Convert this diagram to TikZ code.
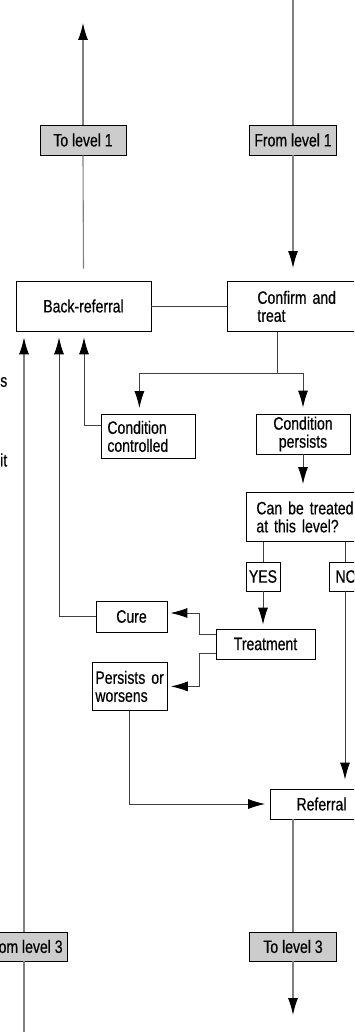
\documentclass[tikz,border=0pt]{standalone}
\usepackage{fontspec}
\setmainfont{Liberation Sans}[FakeStretch=0.78, FakeBold=0.4]
\usetikzlibrary{arrows.meta}

\begin{document}
\begin{tikzpicture}[
  x=1pt, y=-1pt,
  >={Latex[length=17pt,width=10pt,color=black]},
  box/.style={draw=black, fill=white, line width=0.8pt, inner sep=0pt,
    font=\fontsize{18}{18}\selectfont},
  levelbox/.style={box, fill=black!20},
  leftbox/.style={box, align=left, anchor=north west},
  conn/.style={draw=black!75, line width=0.9pt},
  levelline/.style={draw=black!50, line width=1.1pt},
  cut/.style={anchor=east, inner sep=0pt, font=\fontsize{18}{18}\selectfont}
]
  \useasboundingbox (0,0) rectangle (354,1032);
  \clip (0,0) rectangle (354,1032);

  % level boxes
  \node[levelbox, minimum width=86pt, minimum height=30pt] (tolevelA)   at (83,140)    {To level 1};
  \node[levelbox, minimum width=87pt, minimum height=30pt] (fromlevelA) at (293,140)   {From level 1};
  \node[levelbox, minimum width=87pt, minimum height=29pt] (fromlevelC) at (24,946.5)  {From level 3};
  \node[levelbox, minimum width=87pt, minimum height=29pt] (tolevelC)   at (293,946.5) {To level 3};

  % main boxes
  \node[box, minimum width=135pt, minimum height=50pt] (backref) at (83.5,306) {Back-referral};
  \node[leftbox, minimum height=50pt, text width=110pt, inner xsep=30pt] (confirm) at (227,281) {Confirm and\\treat};
  \node[leftbox, minimum height=44pt, text width=82pt, inner xsep=6pt] (condctl) at (101,414) {Condition\\controlled};
  \node[box, align=center, minimum width=94pt, minimum height=40pt] (condper) at (303,434) {Condition\\persists};
  \node[leftbox, minimum height=49pt, text width=110pt, inner xsep=10pt] (canbe) at (246,492) {Can be treated\\at this level?};
  \node[box, minimum width=34pt, minimum height=29pt] (yes) at (263,576.5) {YES};
  \node[box, minimum width=34pt, minimum height=29pt] (no)  at (346,576.5) {NO};
  \node[box, minimum width=71pt, minimum height=31pt] (cure) at (131.5,616.5) {Cure};
  \node[box, minimum width=99pt, minimum height=30pt] (treatment) at (265.5,644) {Treatment};
  \node[leftbox, minimum height=48pt, text width=69pt, inner xsep=3pt] (persists) at (92,662) {Persists or\\worsens};
  \node[box, minimum width=102pt, minimum height=30pt] (referral) at (321.5,804) {Referral};

  % cut-off words at the left edge
  \node[cut] (cutS) at (7.5,382) {s};
  \node[cut] (cutT) at (7.5,460) {it};

  \coordinate (exitA)  at (83,23);
  \coordinate (entryA) at (293,0);
  \coordinate (exitC)  at (293,1015);
  \coordinate (entryC) at (24,1032);
  \coordinate (split)  at (277,373);

  % level lines
  \draw[levelline] ([yshift=12pt]backref.north) -- (tolevelA.south);
  \draw[levelline, ->] (tolevelA.north) -- (exitA);
  \draw[levelline] (entryA) -- (fromlevelA.north);
  \draw[levelline, ->] (fromlevelA.south) -- ([yshift=13pt]fromlevelA.south |- confirm.north);
  \draw[levelline] (referral.south -| tolevelC.north) -- (tolevelC.north);
  \draw[levelline, ->] (tolevelC.south) -- (exitC);
  \draw[levelline] (entryC) -- (fromlevelC.south);
  \draw[levelline, ->] (fromlevelC.north) -- ([yshift=-6pt]fromlevelC.north |- backref.south);

  % connectors
  \draw[conn] (backref.east) -- (confirm.west |- backref.east);
  \draw[conn] (split |- confirm.south) -- (split);
  \draw[conn, ->] (split) -| ([xshift=-9pt,yshift=6pt]condctl.north);
  \draw[conn, ->] (split) -| ([yshift=6pt]condper.north);
  \draw[conn, ->] ([yshift=11pt]condctl.west) -| ([xshift=0.5pt,yshift=-6pt]backref.south);
  \draw[conn, ->] (condper.south) -- ([yshift=8pt]condper.south |- canbe.north);
  \draw[conn] (yes.north |- canbe.south) -- (yes.north);
  \draw[conn] ([xshift=-1pt]no.north |- canbe.south) -- ([xshift=-1pt]no.north);
  \draw[conn, ->] (yes.south) -- ([yshift=4pt]yes.south |- treatment.north);
  \draw[conn, ->] ([xshift=-1pt]no.south) -- ([xshift=-1pt,yshift=9pt]no.south |- referral.north);
  \draw[conn, ->] (cure.west) -| ([xshift=-24.5pt,yshift=-6pt]backref.south);
  \draw[conn, ->] ([yshift=10pt]treatment.west) -- ++(-16,0) |- ([xshift=3pt,yshift=3.5pt]cure.east);
  \draw[conn, ->] ([yshift=-9pt]treatment.west) -- ++(-16,0) |- ([xshift=3pt]persists.east);
  \draw[conn, ->] (persists.south) |- ([xshift=-5pt]referral.west);
\end{tikzpicture}
\end{document}
